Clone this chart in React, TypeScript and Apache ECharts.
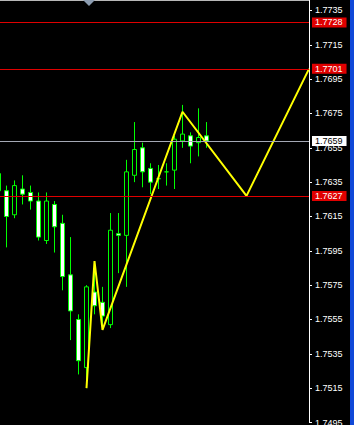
import { useEffect, useRef } from "react";
import * as echarts from "echarts";

// Bar positions (one per candle, left to right)
const bars = [
  0, 1, 2, 3, 4, 5, 6, 7, 8, 9, 10, 11, 12, 13, 14, 15, 16, 17, 18, 19, 20, 21,
  22, 23, 24, 25, 26,
];
const opens = [
  1.763, 1.763, 1.7616, 1.7631, 1.7629, 1.7624, 1.7601, 1.7622, 1.7611, 1.7581,
  1.7555, 1.7527, 1.7571, 1.7565, 1.7552, 1.7605, 1.7604, 1.7639, 1.7655,
  1.7643, 1.7637, 1.7641, 1.7642, 1.7659, 1.7662, 1.7658, 1.7662,
];
const closes = [
  1.764, 1.7615, 1.7633, 1.7628, 1.7624, 1.7603, 1.7624, 1.7609, 1.758, 1.756,
  1.7531, 1.7574, 1.7563, 1.7557, 1.7607, 1.7604, 1.7641, 1.7654, 1.7641,
  1.7635, 1.7637, 1.7641, 1.766, 1.7663, 1.7656, 1.7661, 1.7659,
];
const lows = [
  1.7626, 1.7597, 1.7614, 1.7622, 1.7619, 1.7601, 1.7599, 1.7594, 1.7572,
  1.7543, 1.7523, 1.7515, 1.7558, 1.7549, 1.755, 1.7582, 1.7574, 1.7635,
  1.7632, 1.7628, 1.7631, 1.7633, 1.7631, 1.7655, 1.7646, 1.765, 1.7655,
];
const highs = [
  1.7642, 1.7633, 1.7636, 1.7639, 1.7633, 1.7629, 1.7629, 1.7624, 1.7616,
  1.7603, 1.7558, 1.7575, 1.7589, 1.7574, 1.7617, 1.7617, 1.7648, 1.767,
  1.7658, 1.7646, 1.7645, 1.7646, 1.7662, 1.768, 1.7664, 1.7678, 1.767,
];

// ZigZag pivots (bar position, price); the last two are projected ahead
const zigzagBars = [11, 12, 13, 23, 31, 38.8125];
const zigzagPrices = [1.7515, 1.7589, 1.7549, 1.7676, 1.7627, 1.7701];

// Horizontal price levels
const levelPrices = [1.7728, 1.7701, 1.7627];
const bidPrice = 1.7659;

// Price scale
const priceMin = 1.7495;
const priceMax = 1.77411;
const priceStep = 0.002;

// Visible bar range
const barMin = 0.1875;
const barMax = 38.8125;

const FONT = "'Liberation Sans', Arial, sans-serif";

export default function App() {
  const ref = useRef<HTMLDivElement>(null);

  useEffect(() => {
    if (!ref.current) return;
    const chart = echarts.init(ref.current, undefined, {
      renderer: "svg",
      width: 354,
      height: 427,
    });

    const candles = bars.map((b, i) => [b, opens[i], closes[i], lows[i], highs[i]]);
    const zigzag = zigzagBars.map((b, i) => [b, zigzagPrices[i]]);

    const badge = (bg: string, fg: string) => ({
      show: true,
      position: "end",
      distance: 3,
      formatter: (p: any) => Number(p.value).toFixed(4),
      backgroundColor: bg,
      color: fg,
      fontSize: 9,
      fontFamily: FONT,
      lineHeight: 9,
      padding: [1, 4, 0, 3],
    });

    chart.setOption({
      animation: false,
      backgroundColor: "#000000",
      grid: { left: 0, top: 0, width: 309, height: 427 },
      xAxis: {
        type: "value",
        min: barMin,
        max: barMax,
        show: false,
        splitLine: { show: false },
      },
      yAxis: {
        type: "value",
        position: "right",
        min: priceMin,
        max: priceMax,
        interval: priceStep,
        splitLine: { show: false },
        axisLine: { show: true, lineStyle: { color: "#ffffff", width: 1 } },
        axisTick: { show: true, length: 3, lineStyle: { color: "#ffffff" } },
        axisLabel: {
          color: "#ffffff",
          fontSize: 9,
          fontFamily: FONT,
          margin: 6,
          showMaxLabel: false,
          formatter: (v: number) => v.toFixed(4),
        },
      },
      series: [
        {
          type: "candlestick",
          clip: false,
          barWidth: 4,
          dimensions: ["bar", "open", "close", "low", "high"],
          encode: { x: 0, y: [1, 2, 3, 4] },
          data: candles,
          itemStyle: {
            color: "#000000",
            color0: "#ffffff",
            borderColor: "#00ff00",
            borderColor0: "#00ff00",
            borderWidth: 1,
          },
          z: 2,
        },
        {
          type: "line",
          data: zigzag,
          symbol: "none",
          lineStyle: { color: "#ffff00", width: 2 },
          z: 4,
          markLine: {
            silent: true,
            symbol: "none",
            precision: 4,
            animation: false,
            data: [
              ...levelPrices.map((v) => ({
                yAxis: v,
                lineStyle: { color: "#e00000", width: 1, type: "solid" },
                label: badge("#e00000", "#ffffff"),
              })),
              {
                yAxis: bidPrice,
                lineStyle: { color: "#a4a8b4", width: 1, type: "solid" },
                label: badge("#ffffff", "#000000"),
              },
            ],
          },
        },
      ],
      graphic: [
        {
          type: "line",
          shape: { x1: 0, y1: 0.5, x2: 309, y2: 0.5 },
          style: { stroke: "#b8b8b8", lineWidth: 1 },
          silent: true,
        },
        {
          type: "polygon",
          shape: { points: [[83, 0], [95, 0], [89, 6]] },
          style: { fill: "#8c9cb0" },
          silent: true,
        },
        {
          type: "rect",
          shape: { x: 350, y: 0, width: 4, height: 427 },
          style: { fill: "#1048d8" },
          silent: true,
        },
      ],
    });

    return () => chart.dispose();
  }, []);

  return (
    <div
      ref={ref}
      style={{ position: "fixed", left: 0, top: 0, width: 354, height: 427 }}
    />
  );
}
